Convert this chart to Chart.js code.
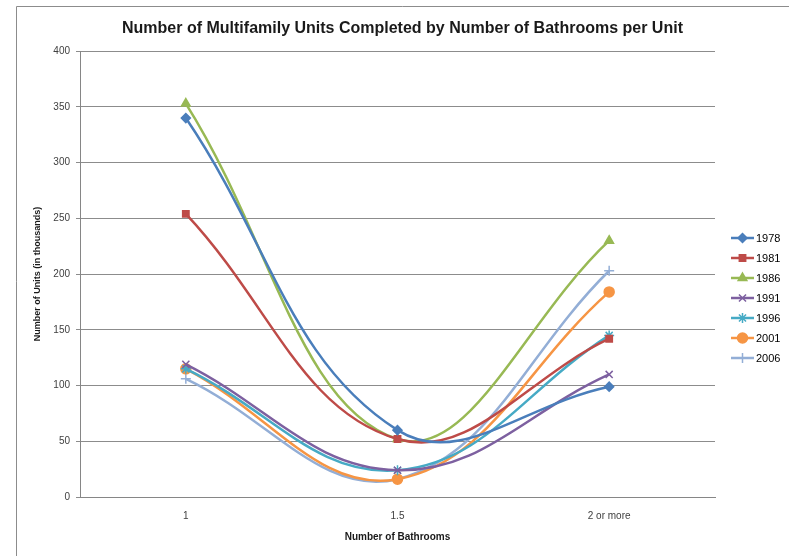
<!DOCTYPE html>
<html>
<head>
<meta charset="utf-8">
<script src="https://cdn.jsdelivr.net/npm/chart.js@4.4.0/dist/chart.umd.min.js"></script>
<style>
  html, body { margin: 0; padding: 0; background: #fff; }
  #wrap { position: relative; width: 789px; height: 556px; }
</style>
</head>
<body>
<div id="wrap"><canvas id="chart" width="789" height="556"></canvas></div>
<script>
// Data
const categories = ["1", "1.5", "2 or more"];
const years = ["1978", "1981", "1986", "1991", "1996", "2001", "2006"];
const units1978 = [340, 60, 99];
const units1981 = [254, 52, 142];
const units1986 = [353, 52, 230];
const units1991 = [119, 24, 110];
const units1996 = [115, 24, 145];
const units2001 = [115, 16, 184];
const units2006 = [106, 16, 203];
const yTicks = [0, 50, 100, 150, 200, 250, 300, 350, 400];

const seriesValues = [units1978, units1981, units1986, units1991, units1996, units2001, units2006];
const colors = ["#4A7EBB", "#BE4B48", "#98B954", "#7D60A0", "#46AAC5", "#F69544", "#93AED6"];
const markers = ["rectRot", "rect", "triangle", "crossRot", "star", "circle", "cross"];
const radii = [4.5, 4.5, 5, 5, 5, 5, 5];

const FONT = "'Liberation Sans', 'DejaVu Sans', sans-serif";

// Frame lines around the chart (only left and top show in the reference)
const framePlugin = {
  id: "frame",
  beforeDraw(chart) {
    const c = chart.ctx;
    c.save();
    c.strokeStyle = "#8c8c8c";
    c.lineWidth = 1;
    c.beginPath();
    c.moveTo(16.5, 556);
    c.lineTo(16.5, 6.5);
    c.lineTo(789, 6.5);
    c.stroke();
    c.restore();
  }
};

// Excel-like legend: short line with the marker in the middle
const legendPlugin = {
  id: "excelLegend",
  afterDraw(chart) {
    const c = chart.ctx;
    c.save();
    chart.data.datasets.forEach((ds, i) => {
      const y = 238 + i * 20;
      c.strokeStyle = ds.borderColor;
      c.lineWidth = 2.5;
      c.beginPath();
      c.moveTo(731, y);
      c.lineTo(754, y);
      c.stroke();
      c.fillStyle = ds.borderColor;
      c.strokeStyle = ds.borderColor;
      c.lineWidth = 1.5;
      Chart.helpers.drawPoint(c, { pointStyle: ds.pointStyle, radius: ds.pointRadius, rotation: 0, borderWidth: 1.5 }, 742.5, y);
      c.fillStyle = "#000";
      c.font = "11px " + FONT;
      c.textBaseline = "middle";
      c.textAlign = "left";
      c.fillText(ds.label, 756, y + 0.5);
    });
    c.restore();
  }
};

const datasets = years.map((yr, i) => ({
  label: yr,
  data: seriesValues[i],
  borderColor: colors[i],
  backgroundColor: colors[i],
  borderWidth: 2.5,
  pointStyle: markers[i],
  pointRadius: radii[i],
  pointBorderWidth: 1.5,
  pointHoverRadius: radii[i],
  tension: 0.4,
  fill: false
}));

new Chart(document.getElementById("chart"), {
  type: "line",
  data: { labels: categories, datasets: datasets },
  plugins: [framePlugin, legendPlugin],
  options: {
    responsive: false,
    animation: false,
    layout: { padding: { left: 16, right: 0, top: 0, bottom: 0 } },
    plugins: {
      legend: { display: false },
      tooltip: { enabled: false },
      title: {
        display: true,
        text: "Number of Multifamily Units Completed by Number of Bathrooms per Unit",
        color: "#1a1a1a",
        font: { family: FONT, size: 16, weight: "bold" },
        padding: { top: 19, bottom: 13 }
      }
    },
    scales: {
      x: {
        offset: true,
        grid: { display: false, drawTicks: false },
        border: { display: true, color: "#868686", width: 1 },
        ticks: { color: "#404040", font: { family: FONT, size: 10 }, padding: 13 },
        title: {
          display: true,
          text: "Number of Bathrooms",
          color: "#1a1a1a",
          font: { family: FONT, size: 10, weight: "bold" },
          padding: { top: 0, bottom: 13 }
        },
        afterFit: (s) => { s.height = 59; }
      },
      y: {
        min: 0,
        max: 400,
        afterBuildTicks: (s) => { s.ticks = yTicks.map((v) => ({ value: v })); },
        grid: { color: "#8c8c8c", lineWidth: 1, tickLength: 4, drawTicks: true },
        border: { display: true, color: "#868686", width: 1 },
        ticks: { color: "#404040", font: { family: FONT, size: 10 }, padding: 6 },
        title: {
          display: true,
          text: "Number of Units (in thousands)",
          color: "#1a1a1a",
          font: { family: FONT, size: 9, weight: "bold" },
          padding: { top: 16, bottom: 0 }
        },
        afterFit: (s) => { s.width = 64; }
      },
      // empty right-hand box that keeps room for the legend
      yRight: {
        type: "linear",
        position: "right",
        display: true,
        grid: { display: false },
        border: { display: false },
        ticks: { display: false },
        afterFit: (s) => { s.width = 74; }
      }
    }
  }
});
</script>
</body>
</html>
